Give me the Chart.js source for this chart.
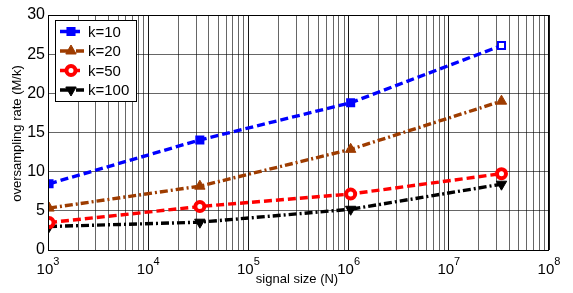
<!DOCTYPE html>
<html>
<head>
<meta charset="utf-8">
<script src="https://cdn.jsdelivr.net/npm/chart.js@4/dist/chart.umd.min.js"></script>
<style>
  html, body { margin: 0; padding: 0; background: #fff; }
  #wrap { width: 573px; height: 293px; }
</style>
</head>
<body>
<div id="wrap"><canvas id="chart" width="573" height="293"></canvas></div>
<script>
// signal sizes (N) = 2^10, 2^15, 2^20, 2^25
var sizes = [1024, 32768, 1048576, 33554432];
var labels = ['k=10', 'k=20', 'k=50', 'k=100'];
var k10 = [8.45, 14.05, 18.8, 26.1];
var k20 = [5.35, 8.15, 12.85, 19.0];
var k50 = [3.5, 5.55, 7.15, 9.75];
var k100 = [3.0, 3.55, 5.2, 8.4];
var xTitle = 'signal size (N)';
var yTitle = 'oversampling rate (M/k)';

var FONT = '"Liberation Sans", Arial, Helvetica, sans-serif';

function pts(values) {
    return values.map(function (v, i) { return {x: sizes[i], y: v}; });
}

var dashed = [8, 4];
var dashDot = [8, 3, 2, 3];

var datasets = [{
    label: labels[0],
    data: pts(k10),
    borderColor: '#0000ff',
    pointBorderColor: '#0000ff',
    pointBackgroundColor: ['#0000ff', '#0000ff', '#0000ff', '#ffffff'],
    legendFill: '#0000ff',
    borderDash: dashed,
    pointStyle: 'rect',
    pointRadius: 5,
    pointBorderWidth: 2,
    pointRotation: 0
}, {
    label: labels[1],
    data: pts(k20),
    borderColor: '#9e3c00',
    pointBorderColor: '#9e3c00',
    pointBackgroundColor: '#9e3c00',
    legendFill: '#9e3c00',
    borderDash: dashDot,
    pointStyle: 'triangle',
    pointRadius: 6,
    pointBorderWidth: 1,
    pointRotation: 0
}, {
    label: labels[2],
    data: pts(k50),
    borderColor: '#ff0000',
    pointBorderColor: '#ff0000',
    pointBackgroundColor: '#ffffff',
    legendFill: '#ffffff',
    borderDash: dashed,
    pointStyle: 'circle',
    pointRadius: 4.5,
    pointBorderWidth: 4,
    pointRotation: 0
}, {
    label: labels[3],
    data: pts(k100),
    borderColor: '#000000',
    pointBorderColor: '#000000',
    pointBackgroundColor: '#000000',
    legendFill: '#000000',
    borderDash: dashDot,
    pointStyle: 'triangle',
    pointRadius: 6,
    pointBorderWidth: 1,
    pointRotation: 180
}];
datasets.forEach(function (d) {
    d.borderWidth = 3.4;
    d.fill = false;
    d.tension = 0;
});

// frame, axis labels and legend drawn over the plot
var decorations = {
    id: 'decorations',
    afterDraw: function (chart) {
        var ctx = chart.ctx;
        var a = chart.chartArea;
        var xs = chart.scales.x;
        ctx.save();

        // box
        ctx.strokeStyle = '#000';
        ctx.lineWidth = 1;
        ctx.strokeRect(a.left + 0.5, a.top + 0.5, a.right - a.left - 1, a.bottom - a.top);

        // x tick labels 10^n
        ctx.fillStyle = '#000';
        ctx.textBaseline = 'alphabetic';
        ctx.textAlign = 'left';
        xs.ticks.forEach(function (t) {
            if (!t.major) return;
            var e = String(Math.round(Math.log10(t.value)));
            ctx.font = '15px ' + FONT;
            var w1 = ctx.measureText('10').width;
            ctx.font = '11px ' + FONT;
            var w2 = ctx.measureText(e).width;
            var px = xs.getPixelForValue(t.value);
            var x0 = px - (w1 + w2) / 2;
            ctx.font = '15px ' + FONT;
            ctx.fillText('10', x0, 274);
            ctx.font = '11px ' + FONT;
            ctx.fillText(e, x0 + w1, 265);
        });

        // axis titles
        ctx.font = '13px ' + FONT;
        ctx.textAlign = 'center';
        ctx.textBaseline = 'middle';
        ctx.fillText(xTitle, 297, 279);
        ctx.save();
        ctx.translate(17, (a.top + a.bottom) / 2 + 1);
        ctx.rotate(-Math.PI / 2);
        ctx.fillText(yTitle, 0, 0);
        ctx.restore();

        // legend
        var bx = a.left + 7, by = a.top + 5, bw = 81, bh = 81;
        ctx.fillStyle = '#fff';
        ctx.fillRect(bx, by, bw, bh);
        ctx.strokeStyle = '#000';
        ctx.lineWidth = 1;
        ctx.strokeRect(bx + 0.5, by + 0.5, bw, bh);
        chart.data.datasets.forEach(function (d, i) {
            var cy = by + 11.5 + i * 19.5;
            ctx.save();
            ctx.strokeStyle = d.borderColor;
            ctx.lineWidth = d.borderWidth;
            ctx.setLineDash(d.borderDash);
            ctx.beginPath();
            ctx.moveTo(bx + 5, cy);
            ctx.lineTo(bx + 29, cy);
            ctx.stroke();
            ctx.setLineDash([]);
            ctx.fillStyle = d.legendFill;
            ctx.strokeStyle = d.pointBorderColor;
            ctx.lineWidth = d.pointBorderWidth;
            Chart.helpers.drawPoint(ctx, {
                pointStyle: d.pointStyle,
                rotation: d.pointRotation,
                radius: d.pointRadius,
                borderWidth: d.pointBorderWidth
            }, bx + 16, cy);
            ctx.restore();
            ctx.fillStyle = '#000';
            ctx.font = '15px ' + FONT;
            ctx.textAlign = 'left';
            ctx.textBaseline = 'middle';
            ctx.fillText(d.label, bx + 33, cy + 1);
        });
        ctx.restore();
    }
};

var config = {
    type: 'line',
    data: {datasets: datasets},
    options: {
        responsive: false,
        animation: false,
        events: [],
        layout: {padding: {left: 0, right: 24, top: 15, bottom: 0}},
        plugins: {
            legend: {display: false},
            title: {display: false},
            tooltip: {enabled: false}
        },
        scales: {
            x: {
                type: 'logarithmic',
                min: 1000,
                max: 1e8,
                afterFit: function (s) { s.height = 43; },
                afterBuildTicks: function (s) {
                    var ticks = [];
                    for (var e = 3; e <= 8; e++) {
                        for (var m = 1; m <= 9; m++) {
                            var v = m * Math.pow(10, e);
                            if (v > 1e8) break;
                            ticks.push({value: v, major: m === 1});
                        }
                    }
                    s.ticks = ticks;
                },
                ticks: {display: false},
                border: {display: false},
                grid: {
                    drawTicks: false,
                    lineWidth: 1,
                    color: function (c) {
                        return c.tick && c.tick.major ? 'rgba(0,0,0,0.9)' : 'rgba(0,0,0,0.6)';
                    }
                }
            },
            y: {
                type: 'linear',
                min: 0,
                max: 30,
                afterFit: function (s) { s.width = 48; },
                ticks: {
                    stepSize: 5,
                    padding: 3,
                    color: '#000',
                    font: {family: FONT, size: 16}
                },
                border: {display: false},
                grid: {
                    drawTicks: false,
                    lineWidth: 1,
                    color: 'rgba(0,0,0,0.6)'
                }
            }
        }
    },
    plugins: [decorations]
};

var ctx = document.getElementById('chart').getContext('2d');
new Chart(ctx, config);
</script>
</body>
</html>
